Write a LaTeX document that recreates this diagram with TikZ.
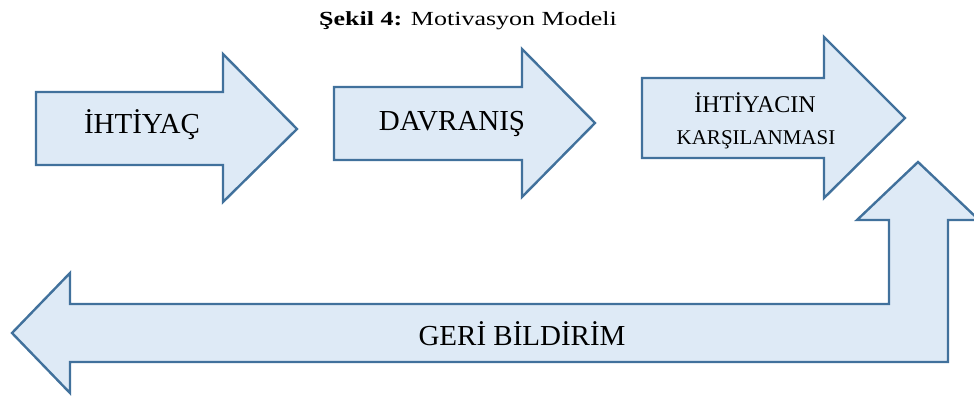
\documentclass[tikz,border=0pt]{standalone}
\usepackage{fontspec}
\setmainfont{Liberation Serif}
\definecolor{arrowfill}{RGB}{222,234,246}
\definecolor{arrowline}{RGB}{65,113,156}

\begin{document}
\begin{tikzpicture}[x=1pt,y=-1pt,
    blockarrow/.style={fill=arrowfill,draw=arrowline,line width=2.4pt,line join=miter},
    arrowtext/.style={anchor=base,inner sep=0pt,font=\fontsize{29}{31}\selectfont}]
  \useasboundingbox (0,0) rectangle (974,396);
  % title
  \node[anchor=base,inner sep=0pt,font=\fontsize{20}{22}\selectfont] (title) at (468,26)
    {\scalebox{1.3}[1]{\textbf{Şekil 4:} Motivasyon Modeli}};
  % the three forward arrows
  \draw[blockarrow] (36,92) -- (223,92) -- (223,54) -- (297,129) -- (223,202)
    -- (223,165) -- (36,165) -- cycle;
  \draw[blockarrow] (334,87) -- (522,87) -- (522,49) -- (595,123) -- (522,197)
    -- (522,160) -- (334,160) -- cycle;
  \draw[blockarrow] (642,78) -- (824,78) -- (824,37) -- (905,118) -- (824,198)
    -- (824,158) -- (642,158) -- cycle;
  % feedback arrow
  \draw[blockarrow] (12,333) -- (70,273) -- (70,304) -- (889,304) -- (889,220)
    -- (857,220) -- (918,162) -- (979,220) -- (948,220) -- (948,362) -- (70,362)
    -- (70,393) -- cycle;
  \node[arrowtext] (ihtiyac) at (142,133) {İHTİYAÇ};
  \node[arrowtext] (davranis) at (452,130) {DAVRANIŞ};
  \node[arrowtext,font=\fontsize{24}{26}\selectfont] (karsilanma1) at (755,112) {İHTİYACIN};
  \node[arrowtext,font=\fontsize{21}{23}\selectfont] (karsilanma2) at (756,144) {KARŞILANMASI};
  \node[arrowtext] (geribildirim) at (522,345) {GERİ BİLDİRİM};
\end{tikzpicture}
\end{document}
